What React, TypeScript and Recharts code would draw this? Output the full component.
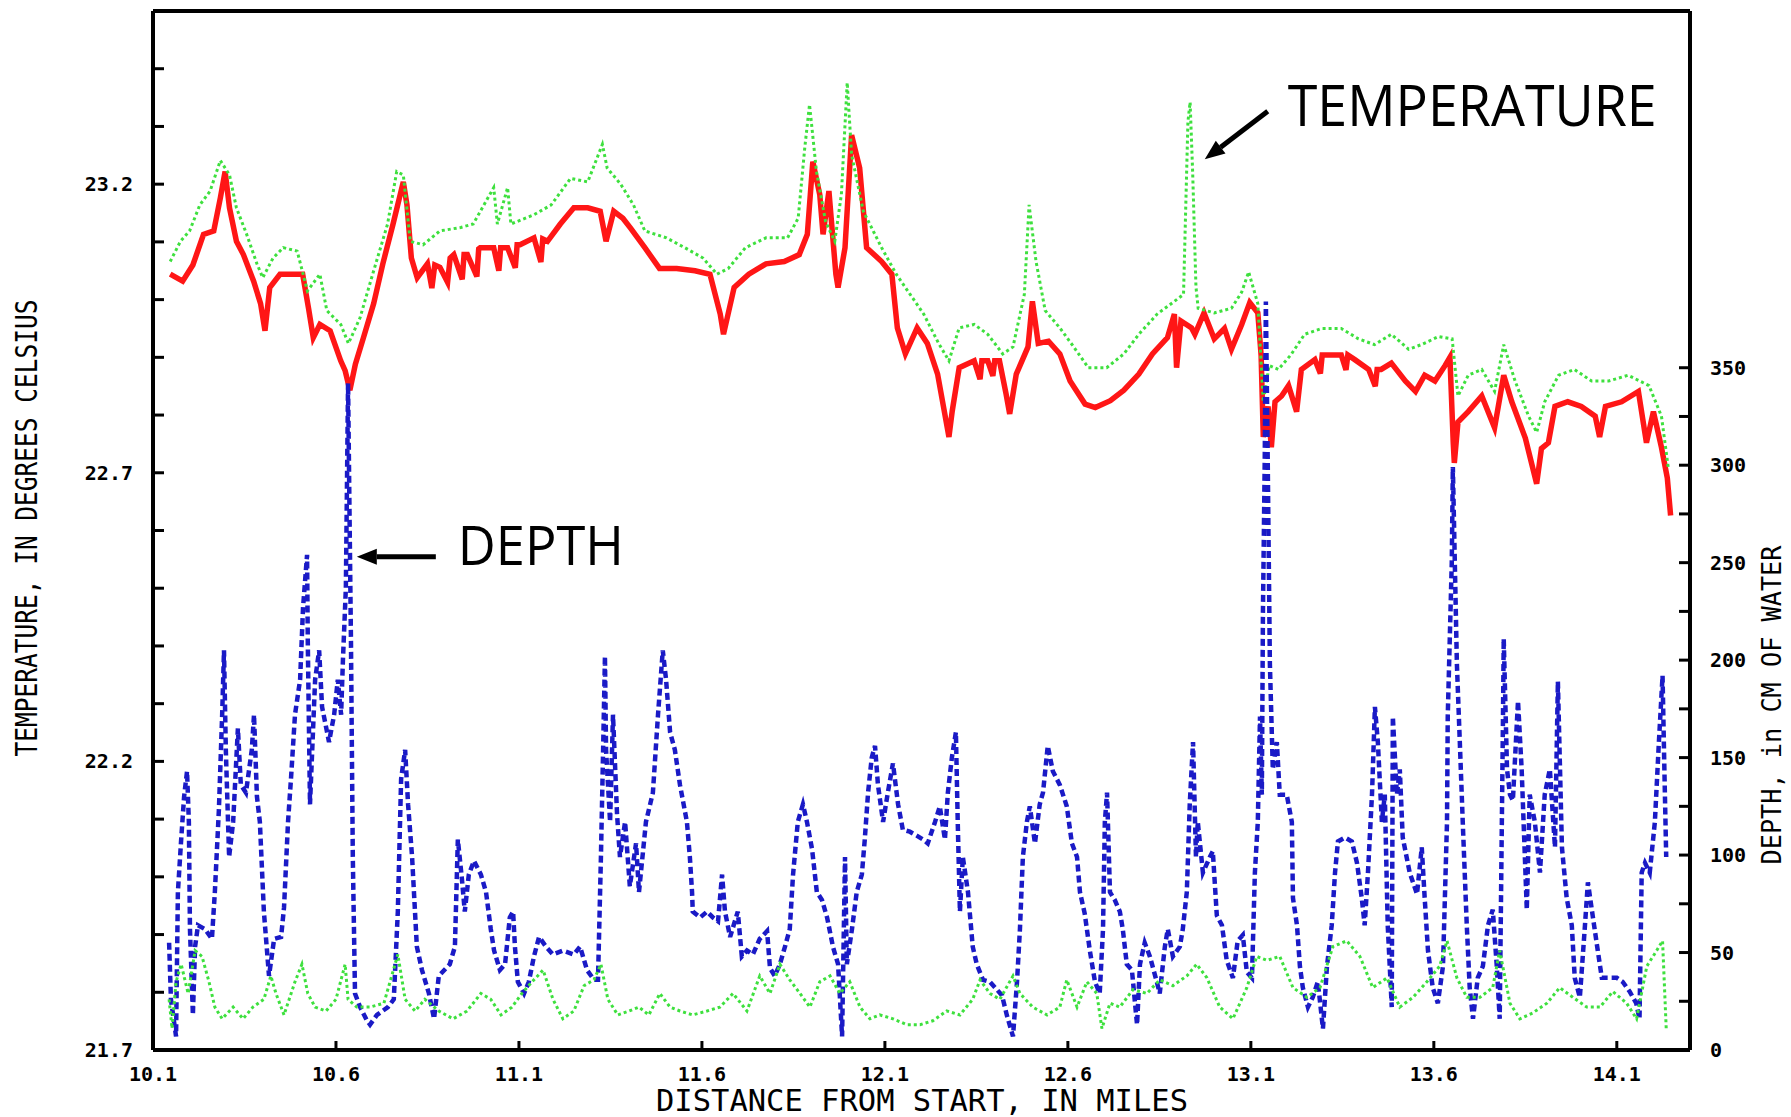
import React from "react";
import { LineChart, Line, XAxis, YAxis, ReferenceLine, ReferenceDot } from "recharts";

// axis ticks
const MILE_TICKS = [10.1, 10.6, 11.1, 11.6, 12.1, 12.6, 13.1, 13.6, 14.1];
const TEMP_TICKS = [21.7, 21.8, 21.9, 22.0, 22.1, 22.2, 22.3, 22.4, 22.5, 22.6, 22.7, 22.8, 22.9, 23.0, 23.1, 23.2, 23.3, 23.4];
const TEMP_LABELS = [21.7, 22.2, 22.7, 23.2];
const DEPTH_TICKS = [0, 25, 50, 75, 100, 125, 150, 175, 200, 225, 250, 275, 300, 325, 350];
const DEPTH_LABELS = [0, 50, 100, 150, 200, 250, 300, 350];

// [mile, degrees C] - red trace
const TEMP_MAIN: [number, number][] = [
  [10.147, 23.044], [10.181, 23.032], [10.209, 23.06], [10.238, 23.113], [10.266, 23.119], [10.284, 23.176],
  [10.297, 23.222], [10.309, 23.159], [10.328, 23.101], [10.347, 23.078], [10.375, 23.032], [10.394, 22.993],
  [10.406, 22.946], [10.419, 23.021], [10.447, 23.044], [10.484, 23.044], [10.509, 23.044], [10.525, 22.985],
  [10.538, 22.934], [10.556, 22.957], [10.584, 22.946], [10.613, 22.894], [10.625, 22.877], [10.638, 22.843],
  [10.653, 22.888], [10.675, 22.934], [10.703, 22.993], [10.728, 23.062], [10.756, 23.131], [10.784, 23.204],
  [10.794, 23.164], [10.806, 23.072], [10.822, 23.038], [10.85, 23.062], [10.862, 23.02], [10.87, 23.06],
  [10.884, 23.056], [10.905, 23.03], [10.912, 23.072], [10.922, 23.078], [10.945, 23.035], [10.95, 23.078],
  [10.959, 23.078], [10.985, 23.04], [10.99, 23.088], [10.994, 23.09], [11.031, 23.09], [11.045, 23.05],
  [11.05, 23.09], [11.069, 23.09], [11.09, 23.055], [11.095, 23.095], [11.103, 23.095], [11.141, 23.107],
  [11.16, 23.065], [11.165, 23.105], [11.178, 23.101], [11.213, 23.131], [11.25, 23.159], [11.288, 23.159],
  [11.322, 23.153], [11.338, 23.101], [11.359, 23.153], [11.384, 23.141], [11.406, 23.123], [11.444, 23.09],
  [11.484, 23.054], [11.531, 23.054], [11.581, 23.05], [11.622, 23.044], [11.65, 22.975], [11.659, 22.94],
  [11.688, 23.021], [11.728, 23.044], [11.775, 23.062], [11.825, 23.066], [11.866, 23.078], [11.888, 23.113],
  [11.903, 23.239], [11.922, 23.182], [11.931, 23.113], [11.947, 23.188], [11.966, 23.044], [11.972, 23.021],
  [11.991, 23.09], [12.009, 23.285], [12.031, 23.228], [12.05, 23.09], [12.091, 23.066], [12.119, 23.044],
  [12.134, 22.951], [12.156, 22.906], [12.188, 22.951], [12.216, 22.924], [12.244, 22.871], [12.275, 22.762],
  [12.284, 22.807], [12.303, 22.882], [12.344, 22.894], [12.36, 22.862], [12.365, 22.894], [12.381, 22.894],
  [12.395, 22.868], [12.4, 22.894], [12.413, 22.894], [12.431, 22.837],
  [12.441, 22.802], [12.459, 22.871], [12.491, 22.918], [12.503, 22.997], [12.519, 22.924], [12.547, 22.928],
  [12.578, 22.906], [12.606, 22.859], [12.647, 22.819], [12.675, 22.813], [12.716, 22.825], [12.753, 22.843],
  [12.794, 22.871], [12.831, 22.906], [12.872, 22.934], [12.891, 22.975], [12.897, 22.882], [12.909, 22.963],
  [12.938, 22.951], [12.947, 22.94], [12.972, 22.977], [13.0, 22.932], [13.028, 22.95], [13.047, 22.914],
  [13.075, 22.957], [13.097, 22.995], [13.119, 22.977], [13.128, 22.904], [13.134, 22.762], [13.147, 22.815],
  [13.156, 22.744], [13.166, 22.823], [13.184, 22.833], [13.203, 22.851], [13.225, 22.806], [13.238, 22.879],
  [13.275, 22.896], [13.29, 22.872], [13.295, 22.904], [13.313, 22.904], [13.347, 22.904], [13.36, 22.878],
  [13.365, 22.904], [13.384, 22.896], [13.422, 22.879], [13.44, 22.85], [13.445, 22.879], [13.456, 22.879],
  [13.484, 22.89], [13.522, 22.859], [13.55, 22.841], [13.575, 22.869], [13.603, 22.859], [13.631, 22.886],
  [13.644, 22.9], [13.653, 22.752], [13.656, 22.717], [13.666, 22.788], [13.694, 22.806], [13.731, 22.833],
  [13.766, 22.778], [13.791, 22.869], [13.813, 22.823], [13.85, 22.76], [13.881, 22.681], [13.894, 22.742],
  [13.913, 22.752], [13.931, 22.815], [13.966, 22.823], [14.003, 22.815], [14.041, 22.798], [14.053, 22.762],
  [14.069, 22.815], [14.113, 22.823], [14.159, 22.841], [14.181, 22.752], [14.2, 22.806], [14.222, 22.744],
  [14.238, 22.691], [14.247, 22.626],
];

// [mile, degrees C] - green trace
const TEMP_SECOND: [number, number][] = [
  [10.147, 23.066], [10.175, 23.101], [10.2, 23.119], [10.228, 23.164], [10.256, 23.188], [10.284, 23.241],
  [10.309, 23.216], [10.328, 23.159], [10.356, 23.113], [10.384, 23.062], [10.4, 23.038], [10.428, 23.072],
  [10.456, 23.09], [10.494, 23.084], [10.522, 23.015], [10.556, 23.044], [10.575, 22.981], [10.613, 22.957],
  [10.634, 22.924], [10.666, 22.969], [10.703, 23.05], [10.741, 23.131], [10.766, 23.222], [10.784, 23.216],
  [10.803, 23.101], [10.838, 23.095], [10.884, 23.119], [10.941, 23.125], [10.975, 23.131], [11.031, 23.194],
  [11.041, 23.131], [11.069, 23.194], [11.078, 23.131], [11.141, 23.147], [11.188, 23.164], [11.241, 23.21],
  [11.288, 23.204], [11.328, 23.269], [11.341, 23.228], [11.378, 23.2], [11.413, 23.164], [11.444, 23.119],
  [11.503, 23.107], [11.553, 23.09], [11.603, 23.072], [11.641, 23.044], [11.672, 23.054], [11.719, 23.09],
  [11.775, 23.107], [11.834, 23.107], [11.863, 23.141], [11.881, 23.263], [11.894, 23.338], [11.913, 23.222],
  [11.938, 23.135], [11.963, 23.101], [11.981, 23.182], [11.997, 23.376], [12.009, 23.251], [12.041, 23.153],
  [12.091, 23.09], [12.131, 23.044], [12.169, 23.009], [12.206, 22.975], [12.247, 22.924], [12.275, 22.894],
  [12.303, 22.951], [12.344, 22.957], [12.381, 22.94], [12.422, 22.906], [12.45, 22.918], [12.481, 23.009],
  [12.494, 23.164], [12.513, 23.066], [12.538, 22.981], [12.578, 22.951], [12.616, 22.918], [12.656, 22.882],
  [12.706, 22.882], [12.753, 22.906], [12.794, 22.94], [12.844, 22.975], [12.891, 22.997], [12.916, 23.009],
  [12.928, 23.308], [12.934, 23.342], [12.941, 23.22], [12.95, 23.022], [12.956, 22.985], [13.0, 22.977],
  [13.047, 22.985], [13.075, 23.013], [13.094, 23.048], [13.119, 22.993], [13.134, 22.823], [13.15, 22.886],
  [13.175, 22.879], [13.209, 22.904], [13.247, 22.94], [13.294, 22.95], [13.347, 22.95], [13.394, 22.932],
  [13.438, 22.922], [13.484, 22.94], [13.531, 22.914], [13.566, 22.922], [13.613, 22.936], [13.65, 22.932],
  [13.666, 22.833], [13.694, 22.869], [13.731, 22.879], [13.766, 22.841], [13.791, 22.922], [13.822, 22.859],
  [13.859, 22.798], [13.881, 22.77], [13.903, 22.823], [13.941, 22.869], [13.984, 22.879], [14.031, 22.859],
  [14.078, 22.859], [14.131, 22.869], [14.188, 22.851], [14.222, 22.798], [14.241, 22.707],
];

// [mile, cm of water] - blue trace
const DEPTH_MAIN: [number, number][] = [
  [10.144, 55], [10.149, 26], [10.163, 7], [10.168, 81], [10.177, 108], [10.185, 130], [10.193, 143], [10.198, 117],
  [10.201, 62], [10.209, 18], [10.215, 53], [10.223, 64], [10.242, 62], [10.261, 57], [10.269, 81], [10.28, 123],
  [10.289, 172], [10.294, 205], [10.299, 154], [10.308, 99], [10.319, 117], [10.332, 165], [10.34, 136], [10.354, 132],
  [10.37, 154], [10.376, 172], [10.384, 130], [10.392, 117], [10.403, 71], [10.417, 38], [10.431, 57], [10.45, 58],
  [10.458, 73], [10.469, 117], [10.477, 139], [10.488, 172], [10.502, 190], [10.51, 227], [10.521, 254], [10.523, 209],
  [10.529, 126], [10.543, 190], [10.554, 205], [10.562, 176], [10.581, 158], [10.595, 172], [10.605, 190], [10.614, 172],
  [10.619, 200], [10.627, 237], [10.633, 342], [10.641, 209], [10.646, 99], [10.652, 29], [10.666, 22], [10.685, 15],
  [10.693, 13], [10.712, 18], [10.742, 22], [10.758, 26], [10.769, 71], [10.778, 139], [10.789, 154], [10.797, 126],
  [10.808, 99], [10.821, 53], [10.835, 41], [10.854, 29], [10.868, 16], [10.881, 38], [10.911, 44], [10.925, 53],
  [10.933, 108], [10.944, 88], [10.952, 71], [10.963, 90], [10.977, 97], [10.996, 90], [11.01, 81], [11.023, 62],
  [11.032, 51], [11.048, 41], [11.062, 44], [11.075, 68], [11.084, 71], [11.089, 53], [11.097, 35], [11.114, 29],
  [11.127, 35], [11.141, 48], [11.155, 58], [11.174, 53], [11.193, 49], [11.22, 51], [11.25, 49], [11.267, 53],
  [11.286, 41], [11.305, 36], [11.316, 36], [11.324, 99], [11.33, 154], [11.335, 202], [11.338, 154], [11.349, 117],
  [11.357, 172], [11.368, 121], [11.376, 99], [11.39, 117], [11.403, 84], [11.42, 106], [11.428, 81], [11.447, 117],
  [11.466, 132], [11.48, 172], [11.493, 205], [11.502, 190], [11.513, 163], [11.526, 154], [11.54, 136], [11.559, 117],
  [11.567, 99], [11.573, 81], [11.575, 71], [11.595, 68], [11.614, 71], [11.63, 68], [11.644, 66], [11.655, 90],
  [11.663, 71], [11.677, 58], [11.698, 71], [11.709, 48], [11.723, 51], [11.739, 49], [11.758, 57], [11.778, 61],
  [11.786, 42], [11.799, 38], [11.813, 44], [11.827, 53], [11.84, 62], [11.849, 90], [11.862, 117], [11.876, 126],
  [11.887, 117], [11.901, 103], [11.914, 81], [11.928, 77], [11.942, 68], [11.958, 53], [11.972, 44], [11.983, 7],
  [11.991, 99], [11.996, 44], [12.01, 62], [12.023, 81], [12.037, 90], [12.045, 108], [12.054, 132], [12.064, 150],
  [12.073, 156], [12.081, 136], [12.095, 117], [12.108, 132], [12.122, 147], [12.136, 126], [12.149, 113], [12.168, 112],
  [12.187, 110], [12.204, 108], [12.217, 106], [12.237, 117], [12.25, 125], [12.264, 108], [12.272, 132], [12.283, 150],
  [12.294, 163], [12.299, 117], [12.305, 71], [12.313, 99], [12.327, 81], [12.34, 53], [12.351, 44], [12.368, 36],
  [12.387, 35], [12.406, 31], [12.42, 28], [12.433, 18], [12.45, 7], [12.461, 35], [12.469, 62], [12.477, 99],
  [12.488, 117], [12.496, 125], [12.51, 106], [12.523, 126], [12.532, 132], [12.545, 156], [12.559, 143], [12.578, 136],
  [12.597, 125], [12.611, 106], [12.625, 99], [12.633, 81], [12.646, 70], [12.66, 51], [12.674, 35], [12.687, 29],
  [12.696, 62], [12.701, 117], [12.707, 132], [12.715, 81], [12.728, 77], [12.742, 71], [12.75, 62], [12.761, 44],
  [12.775, 41], [12.789, 13], [12.797, 44], [12.81, 55], [12.824, 48], [12.843, 35], [12.851, 29], [12.865, 53],
  [12.873, 62], [12.887, 48], [12.906, 53], [12.914, 62], [12.925, 81], [12.933, 126], [12.942, 158], [12.95, 99],
  [12.955, 117], [12.969, 91], [12.988, 99], [12.996, 102], [13.007, 69], [13.021, 64], [13.034, 46], [13.051, 37],
  [13.064, 56], [13.078, 59], [13.089, 40], [13.103, 37], [13.111, 91], [13.119, 117], [13.125, 171], [13.13, 131],
  [13.133, 224], [13.138, 304], [13.141, 384], [13.146, 304], [13.152, 198], [13.16, 144], [13.171, 158], [13.179, 131],
  [13.198, 131], [13.212, 117], [13.215, 78], [13.226, 64], [13.234, 43], [13.242, 32], [13.256, 22], [13.269, 27],
  [13.283, 35], [13.297, 11], [13.308, 43], [13.321, 64], [13.33, 91], [13.338, 107], [13.357, 109], [13.376, 107],
  [13.39, 96], [13.403, 78], [13.411, 64], [13.42, 91], [13.431, 131], [13.439, 176], [13.447, 158], [13.458, 117],
  [13.466, 131], [13.474, 64], [13.485, 22], [13.488, 171], [13.499, 131], [13.507, 144], [13.515, 109], [13.534, 91],
  [13.554, 80], [13.567, 104], [13.575, 78], [13.584, 51], [13.597, 32], [13.611, 24], [13.625, 43], [13.636, 117],
  [13.638, 171], [13.649, 250], [13.652, 299], [13.663, 198], [13.671, 158], [13.679, 117], [13.69, 64], [13.698, 32],
  [13.707, 16], [13.72, 37], [13.734, 43], [13.748, 64], [13.761, 72], [13.772, 43], [13.78, 16], [13.789, 171],
  [13.791, 211], [13.8, 144], [13.808, 131], [13.816, 128], [13.83, 179], [13.84, 144], [13.854, 72], [13.862, 131],
  [13.876, 117], [13.89, 91], [13.903, 131], [13.917, 144], [13.931, 104], [13.939, 189], [13.95, 104], [13.963, 78],
  [13.977, 64], [13.985, 37], [13.999, 27], [14.013, 64], [14.021, 86], [14.034, 69], [14.048, 51], [14.059, 37],
  [14.081, 37], [14.1, 37], [14.116, 35], [14.135, 30], [14.153, 24], [14.162, 16], [14.168, 91], [14.177, 96],
  [14.19, 91], [14.204, 117], [14.215, 158], [14.225, 192], [14.23, 144], [14.235, 99],
];

// [mile, cm of water] - green trace near the floor
const DEPTH_SECOND: [number, number][] = [
  [10.144, 26], [10.152, 11], [10.163, 35], [10.177, 44], [10.196, 29], [10.215, 51], [10.234, 48], [10.253, 35],
  [10.269, 22], [10.289, 16], [10.319, 22], [10.346, 16], [10.373, 22], [10.403, 26], [10.422, 38], [10.436, 29],
  [10.458, 18], [10.488, 35], [10.507, 44], [10.523, 29], [10.543, 22], [10.573, 20], [10.6, 26], [10.625, 44],
  [10.633, 26], [10.657, 22], [10.693, 22], [10.731, 24], [10.769, 49], [10.789, 26], [10.816, 20], [10.843, 26],
  [10.881, 20], [10.92, 16], [10.958, 20], [10.996, 29], [11.023, 26], [11.051, 18], [11.081, 22], [11.108, 29],
  [11.136, 35], [11.166, 41], [11.193, 26], [11.22, 16], [11.25, 20], [11.278, 33], [11.305, 36], [11.324, 44],
  [11.343, 26], [11.37, 18], [11.401, 20], [11.428, 22], [11.455, 18], [11.485, 29], [11.513, 22], [11.54, 20],
  [11.575, 18], [11.614, 20], [11.649, 22], [11.685, 29], [11.723, 20], [11.758, 38], [11.786, 29], [11.813, 44],
  [11.84, 36], [11.868, 29], [11.895, 22], [11.922, 35], [11.95, 38], [11.977, 29], [12.004, 35], [12.032, 22],
  [12.059, 16], [12.086, 18], [12.122, 16], [12.16, 13], [12.196, 13], [12.231, 15], [12.269, 20], [12.305, 18],
  [12.34, 26], [12.36, 36], [12.387, 29], [12.414, 26], [12.45, 38], [12.469, 29], [12.504, 22], [12.543, 18],
  [12.578, 22], [12.597, 36], [12.625, 22], [12.652, 35], [12.679, 29], [12.693, 11], [12.715, 24], [12.742, 22],
  [12.778, 31], [12.816, 29], [12.851, 36], [12.887, 33], [12.925, 38], [12.952, 44], [12.98, 37], [13.015, 22],
  [13.051, 16], [13.089, 32], [13.116, 48], [13.144, 46], [13.179, 48], [13.215, 32], [13.253, 27], [13.289, 32],
  [13.324, 53], [13.362, 56], [13.398, 48], [13.433, 32], [13.472, 37], [13.507, 22], [13.543, 27], [13.581, 35],
  [13.616, 43], [13.636, 56], [13.663, 37], [13.69, 27], [13.726, 27], [13.761, 32], [13.78, 51], [13.808, 24],
  [13.835, 16], [13.87, 19], [13.909, 24], [13.944, 32], [13.98, 27], [14.018, 22], [14.054, 22], [14.089, 30],
  [14.127, 24], [14.154, 16], [14.182, 43], [14.209, 51], [14.225, 56], [14.235, 11],
];

const rows = (pts: [number, number][]) => pts.map(([mile, v]) => ({ mile, v }));

const RED = "#ff1616";
const GREEN = "#3ee03e";
const BLUE = "#1a1ac6";

const tickText = {
  fontFamily: "'DejaVu Sans Mono', monospace",
  fontWeight: 700,
  fontSize: 20,
  fill: "#000",
};

function TempTick({ x, y, payload }: any) {
  const show = TEMP_LABELS.includes(payload.value);
  return (
    <g>
      <line x1={x} x2={x + 11} y1={y} y2={y} stroke="#000" strokeWidth={3} />
      {show && (
        <text x={x - 20} y={y} textAnchor="end" dominantBaseline="central" {...tickText}>
          {payload.value.toFixed(1)}
        </text>
      )}
    </g>
  );
}

function DepthTick({ x, y, payload }: any) {
  const show = DEPTH_LABELS.includes(payload.value);
  return (
    <g>
      <line x1={x} x2={x - 11} y1={y} y2={y} stroke="#000" strokeWidth={3} />
      {show && (
        <text x={x + 20} y={y} textAnchor="start" dominantBaseline="central" {...tickText}>
          {payload.value}
        </text>
      )}
    </g>
  );
}

function MileTick({ x, y, payload }: any) {
  return (
    <g>
      <line x1={x} x2={x} y1={y} y2={y - 9} stroke="#000" strokeWidth={3} />
      <text x={x} y={y + 24} textAnchor="middle" dominantBaseline="central" {...tickText}>
        {payload.value.toFixed(1)}
      </text>
    </g>
  );
}

// arrow pointing at (tx, ty) from (fx, fy)
function Arrow({ fx, fy, tx, ty }: { fx: number; fy: number; tx: number; ty: number }) {
  const dx = tx - fx;
  const dy = ty - fy;
  const len = Math.sqrt(dx * dx + dy * dy);
  const ux = dx / len;
  const uy = dy / len;
  const head = 20;
  const half = 8;
  const bx = tx - ux * head;
  const by = ty - uy * head;
  const pts = `${tx},${ty} ${bx - uy * half},${by + ux * half} ${bx + uy * half},${by - ux * half}`;
  return (
    <g>
      <line x1={fx} y1={fy} x2={bx} y2={by} stroke="#000" strokeWidth={5} />
      <polygon points={pts} fill="#000" />
    </g>
  );
}

const noteText = { fontFamily: "'Open Sans', 'Noto Sans', sans-serif", fill: "#000" };

function TempNote({ cx, cy }: any) {
  return (
    <g>
      <Arrow fx={cx + 63} fy={cy - 48} tx={cx} ty={cy} />
      <text x={cx + 83} y={cy - 33} fontSize={56} textLength={369} lengthAdjust="spacingAndGlyphs" {...noteText}>
        TEMPERATURE
      </text>
    </g>
  );
}

function DepthNote({ cx, cy }: any) {
  return (
    <g>
      <Arrow fx={cx + 79} fy={cy} tx={cx} ty={cy} />
      <text x={cx + 101} y={cy + 8} fontSize={54} textLength={166} lengthAdjust="spacingAndGlyphs" {...noteText}>
        DEPTH
      </text>
    </g>
  );
}

const titleText = {
  fontFamily: "'DejaVu Sans Mono', monospace",
  fill: "#000",
  lengthAdjust: "spacingAndGlyphs",
};

export default function App() {
  return (
    <div style={{ position: "absolute", left: 0, top: 0, width: 1791, height: 1117, background: "#fff" }}>
      <LineChart width={1791} height={1117} margin={{ top: 11, right: 41, bottom: 27, left: 93 }}>
        <XAxis
          dataKey="mile"
          type="number"
          domain={[10.1, 14.3]}
          ticks={MILE_TICKS}
          interval={0}
          allowDataOverflow
          height={40}
          tickSize={0}
          tickMargin={0}
          tickLine={false}
          axisLine={{ stroke: "#000", strokeWidth: 4 }}
          tick={(p: any) => <MileTick {...p} />}
        />
        <YAxis
          yAxisId="temp"
          type="number"
          domain={[21.7, 23.5]}
          ticks={TEMP_TICKS}
          interval={0}
          allowDataOverflow
          width={60}
          tickSize={0}
          tickMargin={0}
          tickLine={false}
          axisLine={{ stroke: "#000", strokeWidth: 4 }}
          tick={(p: any) => <TempTick {...p} />}
        />
        <YAxis
          yAxisId="depth"
          orientation="right"
          type="number"
          domain={[0, 533]}
          ticks={DEPTH_TICKS}
          interval={0}
          allowDataOverflow
          width={60}
          tickSize={0}
          tickMargin={0}
          tickLine={false}
          axisLine={{ stroke: "#000", strokeWidth: 4 }}
          tick={(p: any) => <DepthTick {...p} />}
        />
        <ReferenceLine yAxisId="temp" y={23.5} stroke="#000" strokeWidth={4} />

        <Line yAxisId="temp" data={rows(TEMP_MAIN)} dataKey="v" type="linear" stroke={RED} strokeWidth={5.5}
          dot={false} isAnimationActive={false} />
        <Line yAxisId="temp" data={rows(TEMP_SECOND)} dataKey="v" type="linear" stroke={GREEN} strokeWidth={3}
          strokeDasharray="3 3" dot={false} isAnimationActive={false} />
        <Line yAxisId="depth" data={rows(DEPTH_MAIN)} dataKey="v" type="linear" stroke={BLUE} strokeWidth={4.5}
          strokeDasharray="7 4" dot={false} isAnimationActive={false} />
        <Line yAxisId="depth" data={rows(DEPTH_SECOND)} dataKey="v" type="linear" stroke={GREEN} strokeWidth={3}
          strokeDasharray="3 3" dot={false} isAnimationActive={false} />

        <ReferenceDot yAxisId="temp" x={12.974} y={23.243} r={1} ifOverflow="visible"
          shape={(p: any) => <TempNote cx={p.cx} cy={p.cy} />} />
        <ReferenceDot yAxisId="depth" x={10.657} y={253} r={1} ifOverflow="visible"
          shape={(p: any) => <DepthNote cx={p.cx} cy={p.cy} />} />
      </LineChart>

      <svg width={1791} height={1117} style={{ position: "absolute", left: 0, top: 0, pointerEvents: "none" }}>
        <text x={922} y={1100} textAnchor="middle" dominantBaseline="central" fontSize={30} textLength={532}
          {...titleText}>
          DISTANCE FROM START, IN MILES
        </text>
        <text transform="translate(26 528) rotate(-90)" textAnchor="middle" dominantBaseline="central" fontSize={30}
          textLength={457} {...titleText}>
          TEMPERATURE, IN DEGREES CELSIUS
        </text>
        <text transform="translate(1772 705) rotate(-90)" textAnchor="middle" dominantBaseline="central" fontSize={26}
          textLength={319} {...titleText}>
          DEPTH, in CM OF WATER
        </text>
      </svg>
    </div>
  );
}
